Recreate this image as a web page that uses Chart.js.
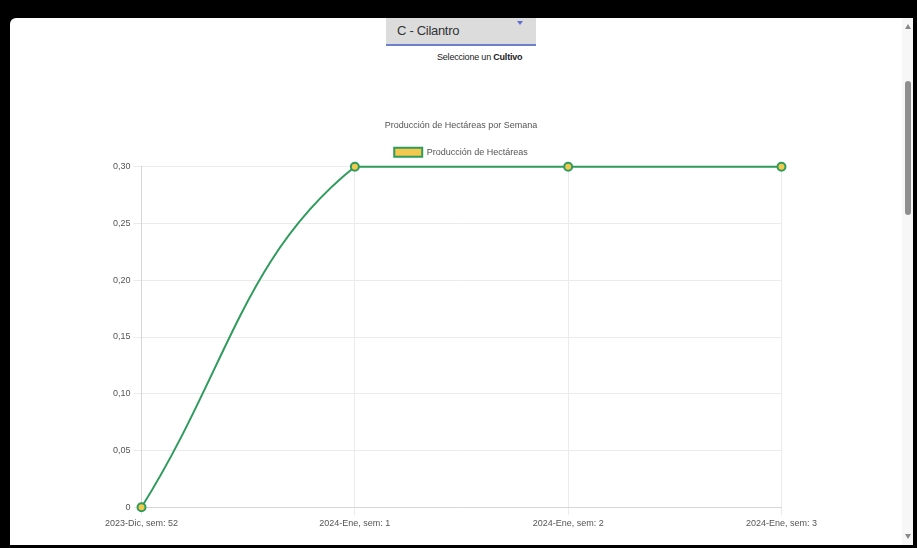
<!DOCTYPE html>
<html>
<head>
<meta charset="utf-8">
<script src="https://cdn.jsdelivr.net/npm/chart.js@4.4.0/dist/chart.umd.min.js"></script>
<style>
  html, body { margin: 0; padding: 0; background: #000; width: 917px; height: 548px; overflow: hidden; }
  body { font-family: 'Liberation Sans Narrow', 'Liberation Sans', Arial, sans-serif; }
  .panel { position: absolute; left: 10px; top: 18px; width: 903px; height: 527px; background: #fff; border-radius: 6px 6px 0 0; }
  .combo { position: absolute; left: 376px; top: 0; width: 150px; height: 26px; background: #dcdcdc; border-bottom: 2px solid #6d7fce; }
  .combo span { position: absolute; left: 11px; top: 5px; font-size: 13px; color: #333; letter-spacing: -0.3px; }
  .combo i { position: absolute; left: 131px; top: 3px; width: 0; height: 0; border-left: 3px solid transparent; border-right: 3px solid transparent; border-top: 4px solid #5b6fd0; }
  .hint { position: absolute; left: 427px; top: 34px; font-size: 9px; color: #222; letter-spacing: -0.2px; }
  .scroll { position: absolute; left: 892px; top: 0; width: 11px; height: 527px; background: #f7f7f7; }
  .thumb { position: absolute; left: 3px; top: 63px; width: 6px; height: 134px; background: #8f8f8f; border-radius: 3px; }
  .up, .down { position: absolute; left: 3px; width: 0; height: 0; border-left: 3px solid transparent; border-right: 3px solid transparent; }
  .up { top: 6px; border-bottom: 5px solid #888; }
  .down { top: 516px; border-top: 5px solid #888; }
  #wrap { position: absolute; left: 92px; top: 92px; width: 718px; height: 422px; }
</style>
</head>
<body>
<div class="panel">
  <div class="combo"><span>C - Cilantro</span><i></i></div>
  <div class="hint">Seleccione un <b>Cultivo</b></div>
  <div id="wrap"><canvas id="chart"></canvas></div>
  <div class="scroll"><div class="up"></div><div class="thumb"></div><div class="down"></div></div>
</div>
<script>
// Datos del gráfico
const semanas = ['2023-Dic, sem: 52', '2024-Ene, sem: 1', '2024-Ene, sem: 2', '2024-Ene, sem: 3'];
const hectareas = [0, 0.3, 0.3, 0.3];
const yTicks = [0, 0.05, 0.10, 0.15, 0.20, 0.25, 0.30];

Chart.defaults.font.family = "'Liberation Sans Narrow', 'Liberation Sans', Arial, sans-serif";
Chart.defaults.font.size = 9;
Chart.defaults.color = '#555';

const ctx = document.getElementById('chart').getContext('2d');
new Chart(ctx, {
    type: 'line',
    data: {
        labels: semanas,
        datasets: [{
            label: 'Producción de Hectáreas',
            data: hectareas,
            borderColor: '#2f9b5c',
            backgroundColor: '#f2c94c',
            borderWidth: 2,
            pointRadius: 4,
            pointBorderWidth: 2,
            pointBorderColor: '#2f9b5c',
            pointBackgroundColor: '#f2c94c',
            tension: 0.4,
            clip: false,
            fill: false
        }]
    },
    options: {
        responsive: true,
        maintainAspectRatio: false,
        animation: false,
        plugins: {
            title: {
                display: true,
                text: 'Producción de Hectáreas por Semana',
                color: '#555',
                font: { size: 9, weight: 'normal' },
                padding: { top: 10, bottom: 7 }
            },
            legend: {
                position: 'top',
                labels: { boxWidth: 28, boxHeight: 9, color: '#555', font: { size: 9 } }
            },
            tooltip: { enabled: false }
        },
        scales: {
            x: {
                grid: { color: '#ebebeb' },
                border: { color: '#d6d6d6' },
                ticks: { maxRotation: 0, color: '#555' }
            },
            y: {
                min: 0,
                max: 0.3,
                afterBuildTicks: axis => { axis.ticks = yTicks.map(v => ({ value: v })); },
                grid: { color: '#ebebeb' },
                border: { color: '#d6d6d6' },
                ticks: {
                    color: '#555',
                    callback: v => v === 0 ? '0' : v.toFixed(2).replace('.', ',')
                }
            }
        }
    }
});
</script>
</body>
</html>
